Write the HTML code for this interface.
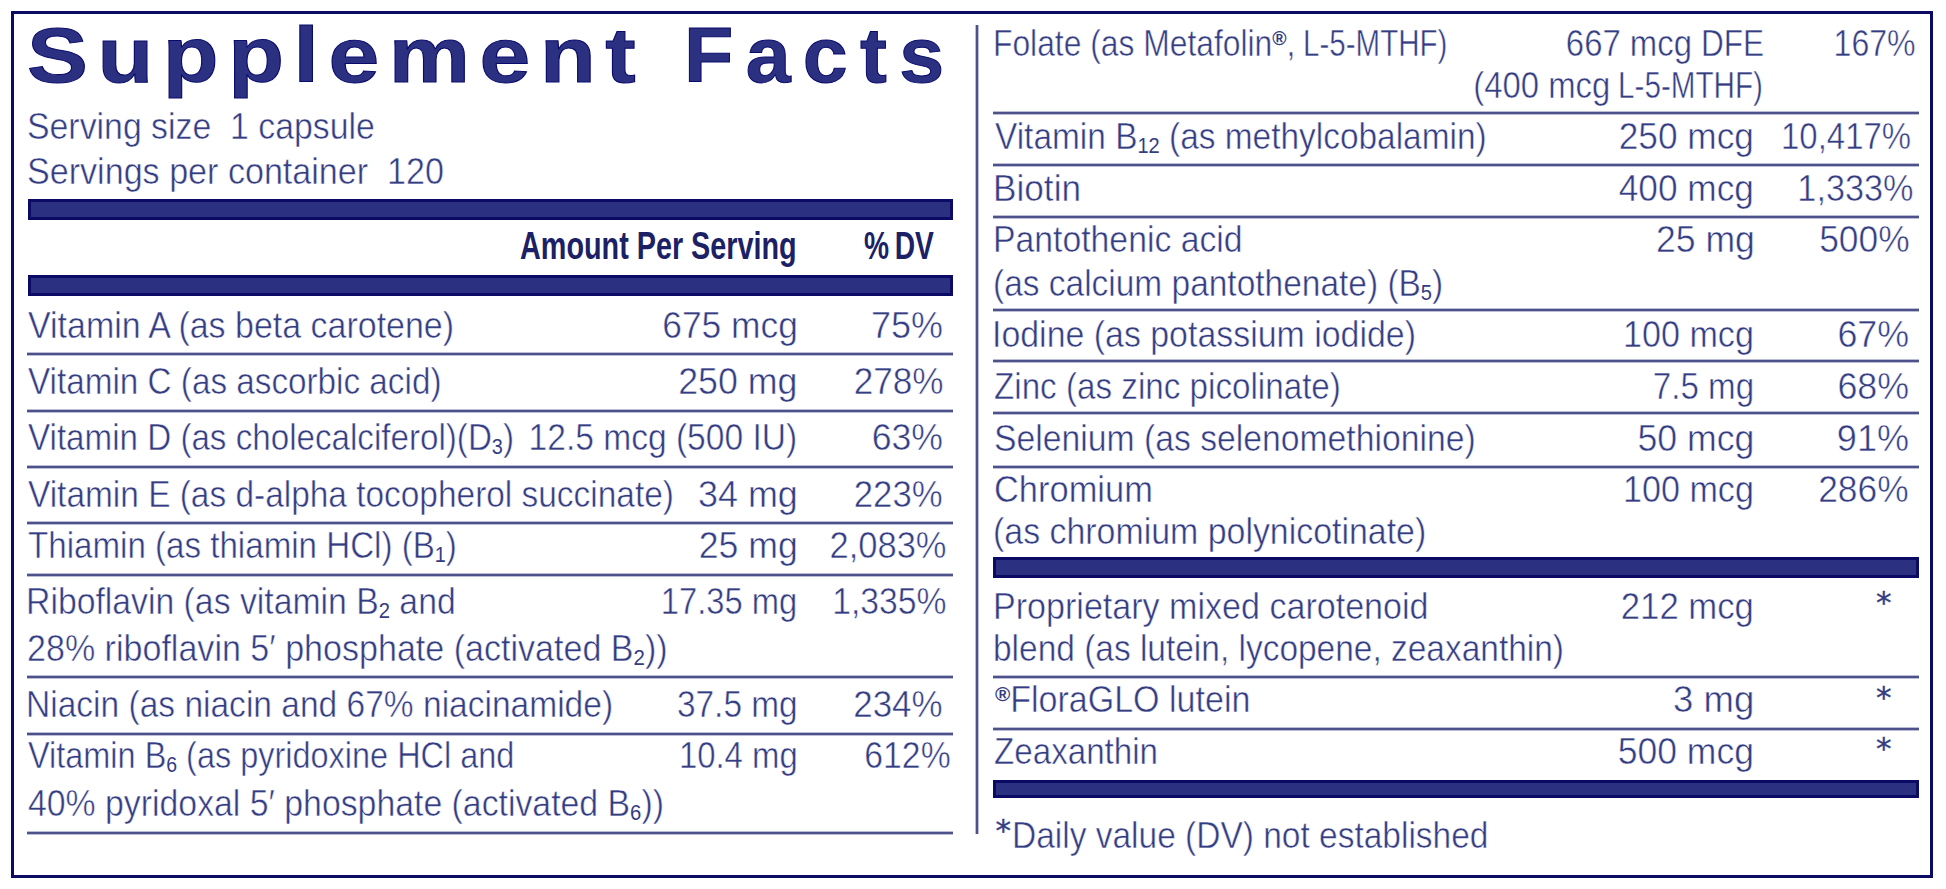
<!DOCTYPE html><html lang="en"><head><meta charset="utf-8"><title>Supplement Facts</title><style>
html,body{margin:0;padding:0;background:#fff;}
body{width:1946px;height:889px;position:relative;overflow:hidden;font-family:"Liberation Sans",sans-serif;}
.box{position:absolute;left:11px;top:11px;width:1916px;height:861px;border:3px solid #0b0b66;}
.t,.h,.ttl{position:absolute;white-space:nowrap;line-height:1;margin:0;}
.t{font-size:37.0px;color:#343d82;-webkit-text-stroke:0.5px #fff;}
.h{font-size:39.5px;font-weight:bold;color:#1c2166;}
.l{transform-origin:0 0;}
.r{transform-origin:100% 0;}
sub{-webkit-text-stroke:0;font-size:0.6em;vertical-align:baseline;position:relative;top:0.18em;line-height:0;}
sup{-webkit-text-stroke:0;font-size:0.53em;vertical-align:baseline;position:relative;top:-0.6em;line-height:0;display:inline-block;transform:scaleX(1.15);margin:0 1px;font-weight:bold}
sup.r0{top:-0.56em;}
.bar{position:absolute;background:#2b3180;border:3px solid #0b0b66;box-sizing:border-box;}
.ln{position:absolute;height:4px;background:linear-gradient(to bottom,#bcbed6 0,#bcbed6 1px,#4c5189 1px,#4c5189 3px,#bcbed6 3px,#bcbed6 4px);}
.vl{position:absolute;width:4px;background:linear-gradient(to right,#bcbed6 0,#bcbed6 1px,#4c5189 1px,#4c5189 3px,#bcbed6 3px,#bcbed6 4px);}
.ttl{font-weight:bold;color:#2b3180;-webkit-text-stroke:1px #0a0a6c;transform-origin:0 0;}
.st{position:absolute;-webkit-text-stroke:0.35px #343d82;}
</style></head><body>
<div class="box"></div>
<div class="bar" style="left:28px;top:199px;width:925px;height:20.5px"></div>
<div class="bar" style="left:28px;top:275px;width:925px;height:20.5px"></div>
<div class="bar" style="left:993px;top:557px;width:925.5px;height:20.5px"></div>
<div class="bar" style="left:993px;top:780px;width:925.5px;height:17.5px"></div>
<div class="ln" style="left:27px;top:352px;width:926px"></div>
<div class="ln" style="left:27px;top:409px;width:926px"></div>
<div class="ln" style="left:27px;top:465px;width:926px"></div>
<div class="ln" style="left:27px;top:521px;width:926px"></div>
<div class="ln" style="left:27px;top:573px;width:926px"></div>
<div class="ln" style="left:27px;top:675px;width:926px"></div>
<div class="ln" style="left:27px;top:732px;width:926px"></div>
<div class="ln" style="left:27px;top:831px;width:926px"></div>
<div class="ln" style="left:993px;top:111px;width:926px"></div>
<div class="ln" style="left:993px;top:163px;width:926px"></div>
<div class="ln" style="left:993px;top:215px;width:926px"></div>
<div class="ln" style="left:993px;top:308px;width:926px"></div>
<div class="ln" style="left:993px;top:359px;width:926px"></div>
<div class="ln" style="left:993px;top:411px;width:926px"></div>
<div class="ln" style="left:993px;top:465px;width:926px"></div>
<div class="ln" style="left:993px;top:675px;width:926px"></div>
<div class="ln" style="left:993px;top:727px;width:926px"></div>
<div class="vl" style="left:974.7px;top:25px;height:809px"></div>
<div class="ttl" style="left:27.22px;top:16.70px;font-size:77.5px;letter-spacing:8.11px;transform:scaleX(1.1785)">Supplement</div>
<div class="ttl" style="left:684.28px;top:16.70px;font-size:77.5px;letter-spacing:11.84px;transform:scaleX(1.0416)">Facts</div>
<div class="t l" style="left:26.92px;top:108.43px;transform:scaleX(0.9142)">Serving size&nbsp; 1 capsule</div>
<div class="t l" style="left:26.91px;top:152.93px;transform:scaleX(0.9215)">Servings per container&nbsp; 120</div>
<div class="h l" style="left:520.27px;top:225.56px;transform:scaleX(0.7287)">Amount Per Serving</div>
<div class="h l" style="left:864.29px;top:225.56px;transform:scaleX(0.7135)">%&#8201;DV</div>
<div class="t l" style="left:27.83px;top:307.18px;transform:scaleX(0.9179)">Vitamin A (as beta carotene)</div>
<div class="t r" style="right:1148.13px;top:307.18px;transform:scaleX(0.9562)">675 mcg</div>
<div class="t r" style="right:1002.56px;top:307.18px;transform:scaleX(0.9714)">75%</div>
<div class="t l" style="left:27.85px;top:363.18px;transform:scaleX(0.8990)">Vitamin C (as ascorbic acid)</div>
<div class="t r" style="right:1148.10px;top:363.18px;transform:scaleX(0.9661)">250 mg</div>
<div class="t r" style="right:1002.60px;top:363.18px;transform:scaleX(0.9505)">278%</div>
<div class="t l" style="left:27.85px;top:419.18px;transform:scaleX(0.8964)">Vitamin D (as cholecalciferol)(D<sub>3</sub>)</div>
<div class="t r" style="right:1149.28px;top:419.18px;transform:scaleX(0.9069)">12.5 mcg (500 IU)</div>
<div class="t r" style="right:1003.07px;top:419.18px;transform:scaleX(0.9643)">63%</div>
<div class="t l" style="left:27.85px;top:475.68px;transform:scaleX(0.9033)">Vitamin E (as d-alpha tocopherol succinate)</div>
<div class="t r" style="right:1148.08px;top:475.68px;transform:scaleX(0.9719)">34 mg</div>
<div class="t r" style="right:1003.12px;top:475.68px;transform:scaleX(0.9396)">223%</div>
<div class="t l" style="left:27.85px;top:526.68px;transform:scaleX(0.8953)">Thiamin (as thiamin HCl) (B<sub>1</sub>)</div>
<div class="t r" style="right:1148.11px;top:526.68px;transform:scaleX(0.9643)">25 mg</div>
<div class="t r" style="right:999.39px;top:526.68px;transform:scaleX(0.9324)">2,083%</div>
<div class="t l" style="left:26.01px;top:582.68px;transform:scaleX(0.9124)">Riboflavin (as vitamin B<sub>2</sub> and</div>
<div class="t r" style="right:1148.34px;top:582.68px;transform:scaleX(0.8851)">17.35 mg</div>
<div class="t r" style="right:999.18px;top:582.68px;transform:scaleX(0.9112)">1,335%</div>
<div class="t l" style="left:26.91px;top:629.68px;transform:scaleX(0.9204)">28% riboflavin 5&#8242; phosphate (activated B<sub>2</sub>))</div>
<div class="t l" style="left:26.03px;top:686.43px;transform:scaleX(0.9062)">Niacin (as niacin and 67% niacinamide)</div>
<div class="t r" style="right:1148.29px;top:686.43px;transform:scaleX(0.9031)">37.5 mg</div>
<div class="t r" style="right:1003.11px;top:686.43px;transform:scaleX(0.9451)">234%</div>
<div class="t l" style="left:27.87px;top:737.18px;transform:scaleX(0.8770)">Vitamin B<sub>6</sub> (as pyridoxine HCl and</div>
<div class="t r" style="right:1147.83px;top:737.18px;transform:scaleX(0.8887)">10.4 mg</div>
<div class="t r" style="right:995.68px;top:737.18px;transform:scaleX(0.9121)">612%</div>
<div class="t l" style="left:27.84px;top:784.68px;transform:scaleX(0.9137)">40% pyridoxal 5&#8242; phosphate (activated B<sub>6</sub>))</div>
<div class="t l" style="left:993.42px;top:25.43px;transform:scaleX(0.8594)">Folate (as Metafolin<sup>&reg;</sup>,</div>
<div class="t l" style="left:1303.11px;top:25.43px;transform:scaleX(0.7983)">L-5-MTHF)</div>
<div class="t r" style="right:253.94px;top:25.43px;transform:scaleX(0.8883)">667 mcg</div>
<div class="t r" style="right:182.50px;top:25.43px;transform:scaleX(0.8522)">DFE</div>
<div class="t r" style="right:30.27px;top:25.43px;transform:scaleX(0.8667)">167%</div>
<div class="t r" style="right:335.83px;top:67.18px;transform:scaleX(0.8885)">(400 mcg</div>
<div class="t r" style="right:183.20px;top:67.18px;transform:scaleX(0.8006)">L-5-MTHF)</div>
<div class="t l" style="left:995.10px;top:117.68px;transform:scaleX(0.9034)">Vitamin B<sub>12</sub> (as methylcobalamin)</div>
<div class="t r" style="right:191.64px;top:117.68px;transform:scaleX(0.9526)">250 mcg</div>
<div class="t r" style="right:35.22px;top:117.68px;transform:scaleX(0.8901)">10,417%</div>
<div class="t l" style="left:993.15px;top:170.18px;transform:scaleX(0.9511)">Biotin</div>
<div class="t r" style="right:191.64px;top:170.18px;transform:scaleX(0.9529)">400 mcg</div>
<div class="t r" style="right:32.15px;top:170.18px;transform:scaleX(0.9256)">1,333%</div>
<div class="t l" style="left:993.26px;top:221.43px;transform:scaleX(0.9123)">Pantothenic acid</div>
<div class="t r" style="right:191.61px;top:221.43px;transform:scaleX(0.9617)">25 mg</div>
<div class="t r" style="right:36.84px;top:221.43px;transform:scaleX(0.9560)">500%</div>
<div class="t l" style="left:993.29px;top:265.43px;transform:scaleX(0.9045)">(as calcium pantothenate) (B<sub>5</sub>)</div>
<div class="t l" style="left:992.34px;top:315.93px;transform:scaleX(0.9161)">Iodine (as potassium iodide)</div>
<div class="t r" style="right:191.73px;top:315.93px;transform:scaleX(0.9228)">100 mcg</div>
<div class="t r" style="right:37.31px;top:315.93px;transform:scaleX(0.9679)">67%</div>
<div class="t l" style="left:994.21px;top:368.43px;transform:scaleX(0.8973)">Zinc (as zinc picolinate)</div>
<div class="t r" style="right:191.81px;top:368.43px;transform:scaleX(0.8958)">7.5 mg</div>
<div class="t r" style="right:37.31px;top:368.43px;transform:scaleX(0.9679)">68%</div>
<div class="t l" style="left:994.18px;top:419.68px;transform:scaleX(0.9113)">Selenium (as selenomethionine)</div>
<div class="t r" style="right:191.61px;top:419.68px;transform:scaleX(0.9634)">50 mcg</div>
<div class="t r" style="right:37.30px;top:419.68px;transform:scaleX(0.9750)">91%</div>
<div class="t l" style="left:994.14px;top:470.93px;transform:scaleX(0.9307)">Chromium</div>
<div class="t r" style="right:191.73px;top:470.93px;transform:scaleX(0.9228)">100 mcg</div>
<div class="t r" style="right:37.34px;top:470.93px;transform:scaleX(0.9560)">286%</div>
<div class="t l" style="left:993.25px;top:512.93px;transform:scaleX(0.9160)">(as chromium polynicotinate)</div>
<div class="t l" style="left:993.24px;top:588.43px;transform:scaleX(0.9208)">Proprietary mixed carotenoid</div>
<div class="t r" style="right:191.69px;top:588.43px;transform:scaleX(0.9380)">212 mcg</div>
<div class="t l" style="left:993.29px;top:630.18px;transform:scaleX(0.9042)">blend (as lutein, lycopene, zeaxanthin)</div>
<div class="t l" style="left:994.50px;top:680.93px;transform:scaleX(0.9200)"><sup class="r0">&reg;</sup>FloraGLO lutein</div>
<div class="t r" style="right:191.54px;top:680.93px;transform:scaleX(0.9870)">3 mg</div>
<div class="t l" style="left:994.21px;top:733.43px;transform:scaleX(0.8961)">Zeaxanthin</div>
<div class="t r" style="right:191.62px;top:733.43px;transform:scaleX(0.9599)">500 mcg</div>
<div class="t l" style="left:1012.29px;top:816.98px;transform:scaleX(0.9050)">Daily value (DV) not established</div>
<div class="t st" style="left:1875.9px;top:587.3px;font-size:31px;font-family:'DejaVu Sans','Liberation Sans',sans-serif">*</div>
<div class="t st" style="left:1875.9px;top:681.6px;font-size:31px;font-family:'DejaVu Sans','Liberation Sans',sans-serif">*</div>
<div class="t st" style="left:1875.9px;top:732.6px;font-size:31px;font-family:'DejaVu Sans','Liberation Sans',sans-serif">*</div>
<div class="t st" style="left:995.5px;top:815.4px;font-size:31px;font-family:'DejaVu Sans','Liberation Sans',sans-serif">*</div>
</body></html>
